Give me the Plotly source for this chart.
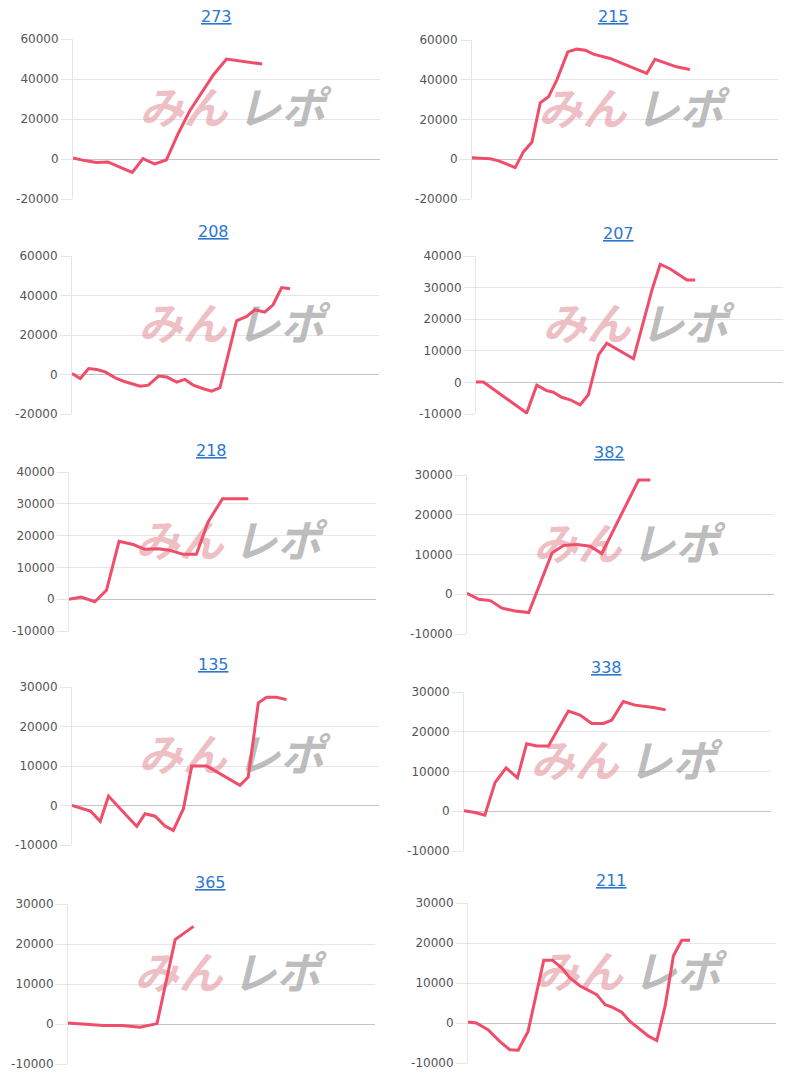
import plotly.graph_objects as go

W, H = 800, 1080

# ---------------- data (x = % of the panel's horizontal span, y = coin difference) ----------------
titles = ["273", "215", "208", "207", "218", "382", "135", "338", "365", "211"]

x_273 = [0, 3.8, 7.6, 11.4, 15.4, 19.3, 22.8, 26.6, 30.4, 34.2, 38.0, 41.8, 45.7, 50.0, 57.1, 61.6]
y_273 = [500, -800, -1700, -1500, -4200, -6700, 200, -2500, -500, 12500, 24000, 33000, 42000, 50000, 48700, 47500]

x_215 = [0, 6.0, 8.7, 14.1, 16.8, 19.6, 22.3, 25.0, 27.7, 31.3, 34.2, 37.0, 39.7, 45.1, 57.1, 59.8, 63.6, 66.8, 71.2]
y_215 = [800, 200, -800, -4200, 3700, 8700, 28400, 31400, 39800, 54000, 55400, 54900, 52900, 50700, 43200, 50300, 48200, 46500, 45200]

x_208 = [0, 2.7, 5.4, 8.1, 10.8, 14.1, 16.8, 19.5, 22.2, 24.9, 28.2, 30.9, 34.1, 36.8, 39.5, 42.8, 45.5, 48.2, 50.9, 53.6, 56.9, 59.6, 62.8, 65.5, 68.3, 71.0]
y_208 = [500, -2000, 3000, 2500, 1300, -1700, -3400, -4500, -5900, -5400, -800, -1300, -3900, -2500, -5400, -7200, -8400, -6700, 10000, 27200, 29400, 32800, 31600, 35300, 44000, 43400]

x_207 = [0, 2.4, 16.5, 19.8, 23.0, 25.2, 27.9, 30.7, 33.9, 36.6, 39.9, 42.6, 51.3, 57.3, 60.0, 63.3, 68.7, 71.4]
y_207 = [100, 100, -9700, -900, -2600, -3100, -4700, -5500, -7100, -3900, 8700, 12400, 7500, 29200, 37400, 35900, 32400, 32400]

x_218 = [0, 4.0, 8.4, 12.2, 16.3, 20.9, 24.7, 29.0, 32.8, 37.2, 41.5, 45.3, 50.0, 58.4]
y_218 = [0, 700, -800, 2800, 18200, 17200, 15700, 15900, 15400, 14100, 14100, 24300, 31600, 31600]

x_382 = [0, 3.8, 7.6, 11.4, 15.7, 20.1, 27.7, 31.5, 35.8, 40.1, 43.9, 49.9, 55.9, 59.7]
y_382 = [250, -1250, -1600, -3500, -4200, -4600, 10400, 12300, 12500, 12100, 10250, 19600, 28750, 28750]

x_135 = [0, 6.0, 9.2, 11.9, 15.7, 21.1, 23.8, 27.1, 30.3, 33.0, 36.3, 39.0, 43.9, 54.7, 57.4, 60.7, 63.4, 66.6, 69.9]
y_135 = [0, -1400, -4000, 2400, -800, -5300, -2100, -2700, -5200, -6300, -800, 10000, 10000, 5100, 7200, 26000, 27400, 27400, 26800]

x_338 = [0, 3.6, 6.8, 10.1, 13.7, 17.4, 20.4, 23.7, 27.5, 34.0, 37.8, 41.6, 45.4, 48.1, 51.9, 55.7, 61.7, 65.7]
y_338 = [100, -300, -1000, 7200, 10900, 8400, 17000, 16400, 16400, 25200, 24200, 22100, 22100, 22900, 27600, 26700, 26100, 25500]

x_365 = [0, 11.6, 17.6, 23.5, 29.0, 34.9, 40.9]
y_365 = [250, -400, -400, -800, 100, 21100, 24400]

x_211 = [0, 2.7, 6.5, 10.3, 13.6, 16.3, 19.5, 24.6, 27.4, 30.4, 33.1, 36.3, 41.8, 44.5, 46.6, 49.9, 52.6, 55.9, 58.6, 61.3, 64.0, 66.7, 69.4, 72.1]
y_211 = [250, 0, -1700, -4600, -6700, -6800, -2100, 15700, 15700, 13800, 11250, 9300, 7100, 4600, 4000, 2700, 400, -1700, -3300, -4400, 4200, 16800, 20700, 20700]

xs = [x_273, x_215, x_208, x_207, x_218, x_382, x_135, x_338, x_365, x_211]
ys = [y_273, y_215, y_208, y_207, y_218, y_382, y_135, y_338, y_365, y_211]

ticks_a = [-20000, 0, 20000, 40000, 60000]
ticks_b = [-10000, 0, 10000, 20000, 30000, 40000]
ticks_c = [-10000, 0, 10000, 20000, 30000]
y_ticks = [ticks_a, ticks_a, ticks_a, ticks_b, ticks_b, ticks_c, ticks_c, ticks_c, ticks_c, ticks_c]

# ---------------- layout geometry (pixels) ----------------
plot_px = [  # x0, x1, ytop, ybottom
    (73, 380, 39, 199), (472, 778, 40, 199),
    (72, 379, 256, 414), (476, 783, 256, 414),
    (69, 376, 472, 631), (467, 774, 475, 634),
    (72, 379, 687, 845), (464, 771, 692, 851),
    (68, 375, 904, 1064), (468, 776, 903, 1063),
]
title_px = [(216, 16), (613, 16), (213, 232), (618, 233), (211, 450), (609, 452),
            (213, 664), (606, 667), (210, 882), (611, 880)]

LINE = "#ef4d6a"
GRID = "#e6e6e6"
ZERO = "#c4c4c4"
TICKC = "#555555"
TITLEC = "#2b77cf"
FONT = "DejaVu Sans"

fig = go.Figure()
layout = dict(
    width=W, height=H, margin=dict(l=0, r=0, t=0, b=0, pad=0, autoexpand=False),
    paper_bgcolor="white", plot_bgcolor="white", showlegend=False,
    annotations=[],
)

for i in range(10):
    sfx = "" if i == 0 else str(i + 1)
    x0, x1, yt, yb = plot_px[i]
    tv = y_ticks[i]
    lo, hi = tv[0], tv[-1]
    layout["xaxis" + sfx] = dict(
        domain=[x0 / W, x1 / W], range=[0, 100], anchor="y" + sfx,
        showgrid=False, zeroline=False, showticklabels=False, ticks="",
        showline=False, fixedrange=True, automargin=False,
    )
    layout["yaxis" + sfx] = dict(
        domain=[1 - yb / H, 1 - yt / H], range=[lo, hi], anchor="x" + sfx,
        tickmode="array", tickvals=tv, ticktext=[str(v) for v in tv],
        showgrid=True, gridcolor=GRID, gridwidth=1,
        zeroline=True, zerolinecolor=ZERO, zerolinewidth=1,
        showline=True, linecolor=GRID, linewidth=1,
        ticks="outside", ticklen=11, tickcolor=GRID, tickwidth=1,
        tickfont=dict(family=FONT, size=12, color=TICKC),
        fixedrange=True, automargin=False,
    )
    # watermark (drawn beneath the line)
    wy = hi - 0.465 * (hi - lo)
    fig.add_trace(go.Scatter(
        x=[36, 67.8], y=[wy, wy], mode="text", text=["みん", "レポ"],
        textposition="middle center",
        textfont=dict(family="Noto Sans CJK JP", size=44, weight="bold", style="italic",
                      color=["rgba(228,150,158,0.62)", "rgba(150,150,150,0.65)"]),
        xaxis="x" + sfx, yaxis="y" + sfx, hoverinfo="skip",
    ))
    fig.add_trace(go.Scatter(
        x=xs[i], y=ys[i], mode="lines", line=dict(color=LINE, width=3),
        xaxis="x" + sfx, yaxis="y" + sfx, hoverinfo="skip",
    ))
    tx, ty = title_px[i]
    layout["annotations"].append(dict(
        text="<u>" + titles[i] + "</u>", xref="paper", yref="paper",
        x=tx / W, y=1 - ty / H, xanchor="center", yanchor="middle", showarrow=False,
        font=dict(family=FONT, size=16, color=TITLEC),
    ))

fig.update_layout(**layout)
fig.write_html("out.html", post_script="document.body.style.margin='0';document.body.style.padding='0';")
